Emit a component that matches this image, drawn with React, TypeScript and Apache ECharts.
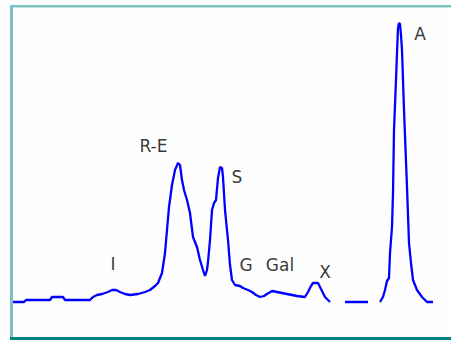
import React, { useEffect, useRef } from "react";
import * as echarts from "echarts";

// retention position (arbitrary units) and detector signal
const rt: (number | null)[] = [
  13, 24, 26, 50, 52, 63, 65, 90, 93, 97, 102, 108, 112, 116, 120, 125, 130, 138, 145, 150,
  155, 158, 162, 165, 167, 169, 172, 175, 178, 180, 182, 184, 187, 190, 193, 197, 200, 203, 205, 207,
  208, 210, 212, 214, 216, 218, 220, 222, 223, 225, 228, 230, 232, 235, 240, 243, 248, 252, 256, 260,
  264, 267, 272, 277, 282, 287, 292, 297, 305, 308, 311, 313, 318, 320, 322, 325, 328, 330, null,
  345, 368, null,
  380, 383, 385, 387, 389, 390, 392, 393, 394, 396, 397, 398, 399, 400, 401, 402, 404, 407, 409, 411,
  413, 417, 422, 427, 433,
];
const signalPx: (number | null)[] = [
  302, 302, 300, 300, 297, 297, 300, 300, 297, 295, 294, 292, 290, 290, 292, 294, 295, 294, 292, 290,
  286, 283, 273, 253, 230, 207, 185, 170, 163, 165, 180, 190, 200, 213, 237, 247, 260, 270, 276, 270,
  262, 240, 210, 203, 200, 178, 167, 168, 177, 210, 240, 265, 280, 285, 286, 288, 290, 292, 295, 297,
  296, 294, 291, 292, 293, 294, 295, 296, 297, 292, 286, 283, 283, 287, 291, 297, 300, 302, null,
  302, 302, null,
  302, 297, 290, 281, 278, 253, 227, 193, 130, 80, 53, 28, 23, 24, 35, 50, 110, 187, 243, 263,
  280, 290, 297, 302, 302,
];
const signal = signalPx.map((v) => (v === null ? null : 302 - v));

const peakNames = ["I", "R-E", "S", "G", "Gal", "X", "A"];
const peakRt = [113, 153.5, 237, 246, 280, 325, 420];
const peakLabelY = [38, 156, 125, 37, 37, 30, 268];

export default function App() {
  const ref = useRef<HTMLDivElement>(null);
  useEffect(() => {
    if (!ref.current) return;
    const chart = echarts.init(ref.current, undefined, { renderer: "svg" });
    const lineData = rt.map((x, i) => (x === null ? [null, null] : [x, signal[i]]));
    chart.setOption({
      animation: false,
      backgroundColor: "#fefefe",
      grid: { left: 0, right: 0, top: 0, bottom: 0 },
      xAxis: { type: "value", min: 0, max: 451, show: false },
      yAxis: { type: "value", min: -38, max: 302, show: false },
      graphic: [
        { type: "rect", shape: { x: 10, y: 5, width: 441, height: 2.5 }, style: { fill: "#80c0c0" }, silent: true },
        { type: "rect", shape: { x: 10, y: 5, width: 3, height: 335 }, style: { fill: "#80c0c0" }, silent: true },
        { type: "rect", shape: { x: 10, y: 337, width: 441, height: 3 }, style: { fill: "#008080" }, silent: true },
      ],
      series: [
        {
          type: "line",
          data: lineData,
          showSymbol: false,
          connectNulls: false,
          lineStyle: { color: "#0000ff", width: 2.3 },
          z: 3,
        },
        {
          type: "scatter",
          data: peakNames.map((n, i) => ({ name: n, value: [peakRt[i], peakLabelY[i]] })),
          symbolSize: 1,
          itemStyle: { color: "rgba(0,0,0,0)" },
          label: {
            show: true,
            position: "inside",
            formatter: (p: any) => p.name,
            fontFamily: "DejaVu Sans",
            fontSize: 17,
            color: "#000",
          },
          z: 4,
        },
      ],
    });
    return () => chart.dispose();
  }, []);
  return (
    <div
      ref={ref}
      style={{ position: "fixed", left: 0, top: 0, width: 451, height: 340 }}
    />
  );
}
